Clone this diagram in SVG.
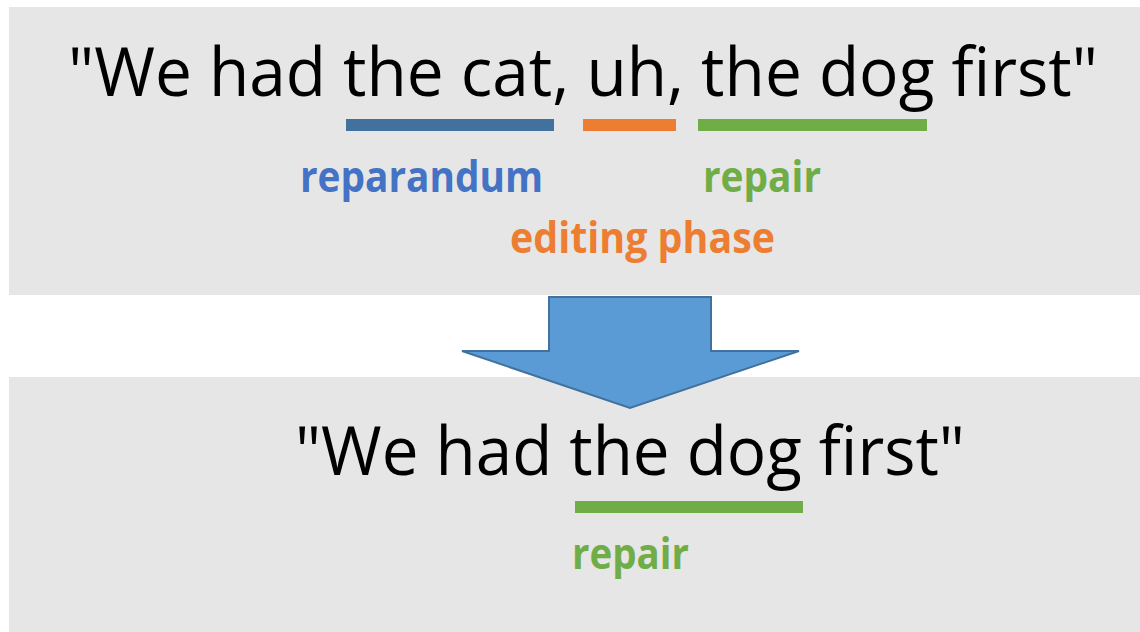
<svg xmlns="http://www.w3.org/2000/svg" width="1140" height="632" viewBox="0 0 1140 632">
  <style>
    .panel { fill: #E6E6E6; }
    .sentence { font-family: "Open Sans", "Liberation Sans", sans-serif; font-size: 68px; fill: #000000; }
    .label { font-family: "Open Sans", "Liberation Sans", sans-serif; font-size: 43px; font-weight: bold; }
    .blue { fill: #4472C4; }
    .orange { fill: #ED7D31; }
    .green { fill: #70AD47; }
    .bar-blue { fill: #41719C; }
    .bar-orange { fill: #ED7D31; }
    .bar-green { fill: #70AD47; }
    .flow { fill: #5B9BD5; stroke: #41719C; stroke-width: 2; stroke-linejoin: miter; }
  </style>
  <rect width="1140" height="632" fill="#FFFFFF"/>

  <!-- original utterance with annotated spans -->
  <g id="utterance">
    <rect class="panel" x="9" y="7" width="1131" height="288"/>
    <text class="sentence" x="68" y="96" textLength="1030" lengthAdjust="spacingAndGlyphs">"We had the cat, uh, the dog first"</text>
    <rect class="bar-blue" x="346" y="119" width="208" height="12"/>
    <rect class="bar-orange" x="583" y="119" width="93" height="12"/>
    <rect class="bar-green" x="698" y="119" width="229" height="12"/>
    <text class="label blue" x="300" y="192" textLength="243" lengthAdjust="spacingAndGlyphs">reparandum</text>
    <text class="label green" x="703" y="192" textLength="118" lengthAdjust="spacingAndGlyphs">repair</text>
    <text class="label orange" x="510" y="253" textLength="265" lengthAdjust="spacingAndGlyphs">editing phase</text>
  </g>

  <!-- cleaned utterance -->
  <g id="cleaned">
    <rect class="panel" x="9" y="377" width="1131" height="255"/>
    <text class="sentence" x="295" y="475" textLength="670" lengthAdjust="spacingAndGlyphs">"We had the dog first"</text>
    <rect class="bar-green" x="575" y="501" width="228" height="12"/>
    <text class="label green" x="572" y="569" textLength="117" lengthAdjust="spacingAndGlyphs">repair</text>
  </g>

  <!-- transformation arrow -->
  <g id="connectors">
    <polygon class="flow" points="549,297 711,297 711,351 799,351 630,408 462,351 549,351"/>
  </g>
</svg>
